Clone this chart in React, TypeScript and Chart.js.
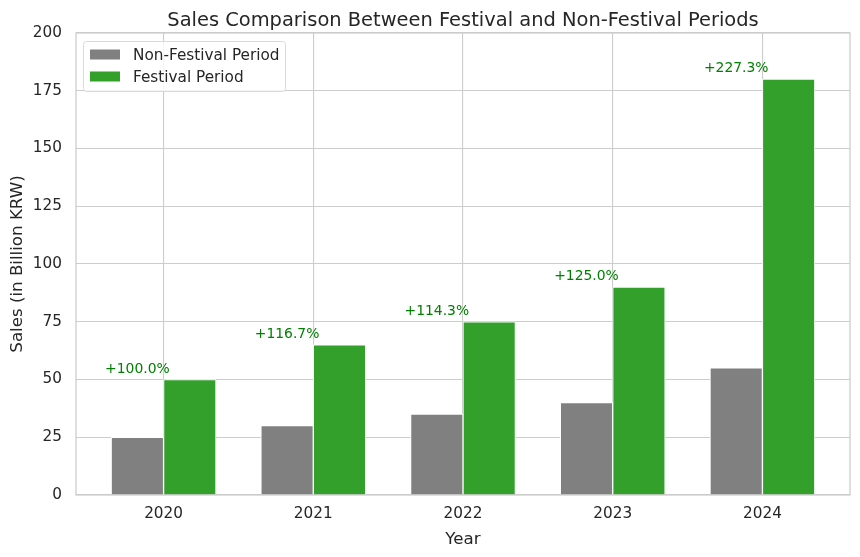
import React, { useEffect, useRef } from "react";
import { Chart, registerables } from "chart.js";

Chart.register(...registerables);

const years = ["2020", "2021", "2022", "2023", "2024"];
const nonFestival = [25, 30, 35, 40, 55];
const festival = [50, 65, 75, 90, 180];
const yTicks = [0, 25, 50, 75, 100, 125, 150, 175, 200];

const titleText = "Sales Comparison Between Festival and Non-Festival Periods";
const xLabel = "Year";
const yLabel = "Sales (in Billion KRW)";
const seriesNames = ["Non-Festival Period", "Festival Period"];
const seriesColors = ["#808080", "#33a02c"];

const FONT = "'DejaVu Sans', sans-serif";
const BAR_W = 0.35;
const TICK_SIZE = 15.28;

const decorPlugin = {
  id: "decor",
  afterDatasetsDraw(chart: any) {
    const { ctx, chartArea, scales } = chart;
    const xs = scales.x;
    const ys = scales.y;
    ctx.save();
    // border
    ctx.strokeStyle = "#cccccc";
    ctx.lineWidth = 1.25;
    ctx.strokeRect(chartArea.left, chartArea.top, chartArea.right - chartArea.left, chartArea.bottom - chartArea.top);

    // annotations
    ctx.fillStyle = "#008000";
    ctx.font = `13.9px ${FONT}`;
    ctx.textAlign = "center";
    ctx.textBaseline = "alphabetic";
    years.forEach((_, i) => {
      const pct = ((festival[i] - nonFestival[i]) / nonFestival[i]) * 100;
      const x = xs.getPixelForValue(i - BAR_W / 2);
      const y = ys.getPixelForValue(festival[i] + 3);
      ctx.fillText(`+${pct.toFixed(1)}%`, x, y);
    });

    // legend
    const lx = chartArea.left + 7;
    const ly = chartArea.top + 8;
    const lw = 202;
    const lh = 50;
    ctx.beginPath();
    ctx.roundRect(lx + 0.5, ly + 0.5, lw, lh, 3);
    ctx.fillStyle = "rgba(255,255,255,0.8)";
    ctx.fill();
    ctx.strokeStyle = "#d9d9d9";
    ctx.lineWidth = 1;
    ctx.stroke();
    ctx.font = `${TICK_SIZE}px ${FONT}`;
    ctx.textAlign = "left";
    ctx.textBaseline = "alphabetic";
    seriesNames.forEach((name, i) => {
      const cy = ly + 13 + i * 22;
      ctx.fillStyle = seriesColors[i];
      ctx.fillRect(lx + 7, cy - 4.5, 30, 10);
      ctx.fillStyle = "#262626";
      ctx.fillText(name, lx + 50, cy + 6);
    });

    // title
    const cx = (chartArea.left + chartArea.right) / 2;
    ctx.fillStyle = "#262626";
    ctx.font = `19.44px ${FONT}`;
    ctx.textAlign = "center";
    ctx.fillText(titleText, cx, 26);

    // axis labels
    ctx.font = `16.67px ${FONT}`;
    ctx.fillText(xLabel, cx, 543.5);
    ctx.save();
    ctx.translate(22, (chartArea.top + chartArea.bottom) / 2);
    ctx.rotate(-Math.PI / 2);
    ctx.fillText(yLabel, 0, 0);
    ctx.restore();

    ctx.restore();
  },
};

export default function App() {
  const ref = useRef<HTMLCanvasElement>(null);

  useEffect(() => {
    if (!ref.current) return;
    const chart = new Chart(ref.current, {
      type: "bar",
      data: {
        datasets: [
          {
            label: seriesNames[0],
            data: years.map((_, i) => ({ x: i - BAR_W / 2, y: nonFestival[i] })),
            backgroundColor: seriesColors[0],
            borderColor: "#ffffff",
            borderWidth: 1,
          },
          {
            label: seriesNames[1],
            data: years.map((_, i) => ({ x: i + BAR_W / 2, y: festival[i] })),
            backgroundColor: seriesColors[1],
            borderColor: "#ffffff",
            borderWidth: 1,
          },
        ],
      },
      options: {
        responsive: false,
        animation: false,
        devicePixelRatio: 1,
        layout: { padding: { top: 33, right: 10, left: 0, bottom: 0 } },
        datasets: {
          bar: { grouped: false, barPercentage: 1, categoryPercentage: 1 },
        },
        plugins: {
          legend: { display: false },
          title: { display: false },
          tooltip: { enabled: false },
        },
        scales: {
          x: {
            type: "linear",
            offset: false,
            min: -0.585,
            max: years.length - 1 + 0.585,
            afterBuildTicks: (s: any) => {
              s.ticks = years.map((_, i) => ({ value: i }));
            },
            afterFit: (s: any) => {
              s.height = 62;
            },
            grid: { color: "#cccccc", lineWidth: 1.1, drawTicks: false, offset: false },
            border: { display: false },
            ticks: {
              padding: 10,
              color: "#262626",
              font: { family: FONT, size: TICK_SIZE },
              callback: (v: any) => years[v as number] ?? "",
            },
          },
          y: {
            min: 0,
            max: 200,
            afterBuildTicks: (s: any) => {
              s.ticks = yTicks.map((v) => ({ value: v }));
            },
            afterFit: (s: any) => {
              s.width = 76;
            },
            grid: { color: "#cccccc", lineWidth: 1.1, drawTicks: false },
            border: { display: false },
            ticks: {
              padding: 14,
              color: "#262626",
              font: { family: FONT, size: TICK_SIZE },
            },
          },
        },
      },
      plugins: [decorPlugin],
    } as any);
    return () => chart.destroy();
  }, []);

  return (
    <div style={{ position: "absolute", left: 0, top: 0, width: 860, height: 557, background: "#fff" }}>
      <canvas ref={ref} width={860} height={557} />
    </div>
  );
}
